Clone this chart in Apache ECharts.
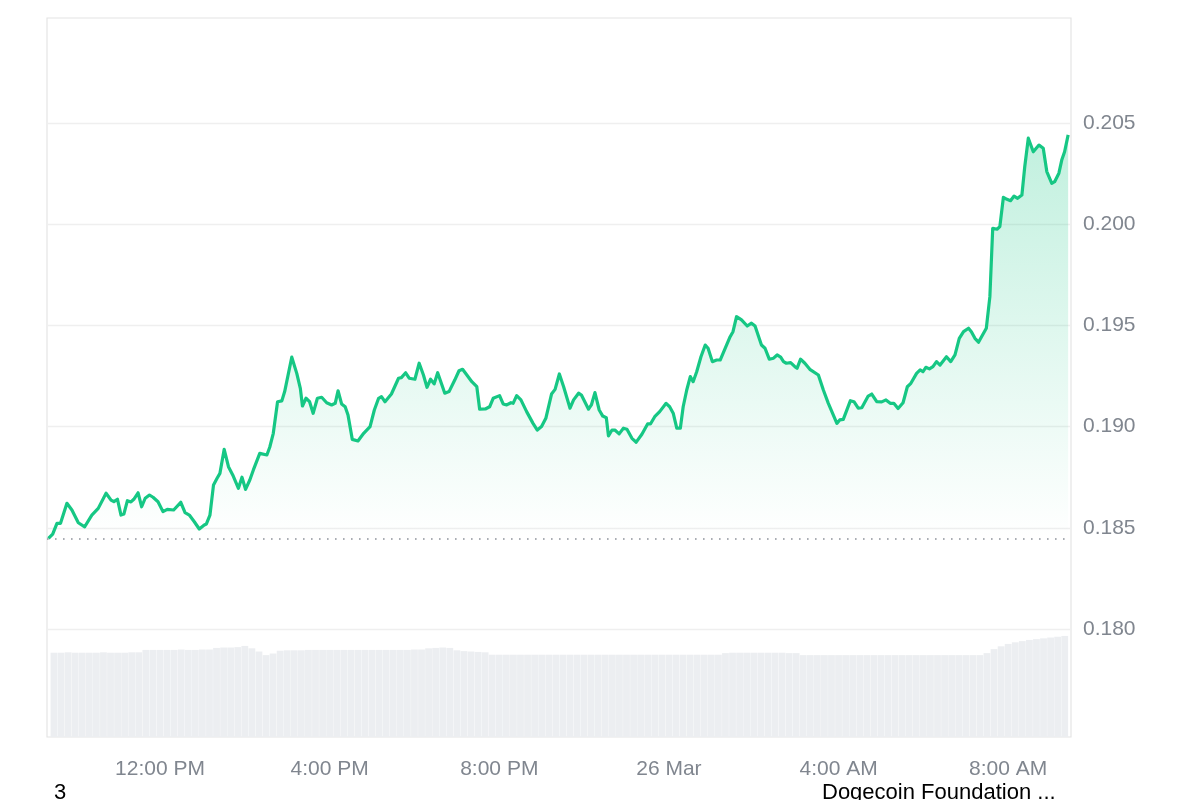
<!DOCTYPE html>
<html>
<head>
<meta charset="utf-8">
<script src="https://cdn.jsdelivr.net/npm/echarts@6/dist/echarts.min.js"></script>
<style>
  html, body { margin: 0; padding: 0; background: #ffffff; }
  #chart { width: 1200px; height: 800px; }
</style>
</head>
<body>
<div id="chart"></div>
<script>
// ---- Data ----
// Window start: 25 Mar, 9:25 AM; values are minutes after that start.
const priceMinutes = [
  2,8,14,19,28,35,44,53,63,72,
  83,90,94,99,104,108,113,118,122,128,
  133,138,144,149,156,163,169,178,188,194,
  200,207,214,221,224,229,234,239,243,249,
  255,261,269,274,279,285,290,299,309,313,
  318,324,330,334,344,351,356,359,364,369,
  374,380,386,393,400,405,409,414,419,423,
  429,437,445,454,460,466,470,475,484,494,
  498,504,509,517,523,529,534,539,544,549,
  555,559,565,573,579,584,590,597,604,608,
  616,622,627,636,641,646,652,655,660,666,
  674,683,689,695,701,709,714,720,726,
  735,740,747,751,761,765,770,776,781,786,
  789,794,798,804,810,815,822,828,836,844,
  848,854,861,870,875,880,885,890,894,899,
  904,908,913,919,925,929,935,941,946,953,
  960,964,969,976,984,990,995,1004,1009,1015,
  1021,1026,1031,1035,1039,1045,1051,1054,1059,1065,
  1072,1084,1091,1098,
  1110,1114,1119,1129,1134,1140,1145,1154,1159,1166,
  1173,1179,1185,1190,1196,1203,1209,1214,1222,1227,
  1231,1235,1240,1245,1250,1255,1264,1270,1276,1282,
  1288,1295,1299,1304,1309,1320,1325,1329,1335,1339,
  1344,1349,1354,1359,1364,1370,1374,1379,1386,1394,
  1400,1405,1412,1416,1422,1426,1430,1435
];
const prices = [
  0.18448,0.18469,0.18522,0.18522,0.18621,0.18588,0.18525,0.18505,0.18563,0.18596,
  0.18671,0.18637,0.18629,0.18641,0.18563,0.18568,0.18634,0.18628,0.18641,0.18673,
  0.18604,0.18646,0.18662,0.18651,0.18629,0.18580,0.18591,0.18588,0.18626,0.18575,
  0.18563,0.18530,0.18494,0.18514,0.18519,0.18563,0.18712,0.18745,0.18769,0.18888,
  0.18802,0.18761,0.18695,0.18750,0.18690,0.18736,0.18786,0.18868,0.18860,0.18898,
  0.18967,0.19123,0.19127,0.19173,0.19343,0.19263,0.19189,0.19102,0.19140,0.19123,
  0.19066,0.19140,0.19145,0.19118,0.19107,0.19115,0.19177,0.19112,0.19098,0.19057,
  0.18937,0.18929,0.18967,0.19000,0.19082,0.19140,0.19148,0.19123,0.19161,0.19239,
  0.19242,0.19266,0.19239,0.19234,0.19313,0.19255,0.19194,0.19234,0.19211,0.19266,
  0.19206,0.19165,0.19173,0.19230,0.19276,0.19283,0.19255,0.19222,0.19197,0.19086,
  0.19087,0.19098,0.19140,0.19153,0.19112,0.19107,0.19118,0.19115,0.19153,0.19132,
  0.19074,0.19016,0.18983,0.19000,0.19041,0.19161,0.19184,0.19260,0.19197,
  0.19091,0.19132,0.19165,0.19156,0.19086,0.19107,0.19168,0.19082,0.19052,0.19044,
  0.18954,0.18983,0.18983,0.18964,0.18992,0.18987,0.18942,0.18923,0.18962,0.19013,
  0.19013,0.19049,0.19074,0.19115,0.19098,0.19066,0.18992,0.18992,0.19098,0.19181,
  0.19247,0.19222,0.19271,0.19345,0.19403,0.19387,0.19321,0.19329,0.19329,0.19387,
  0.19444,0.19469,0.19543,0.19527,0.19497,0.19511,0.19497,0.19403,0.19387,0.19333,
  0.19338,0.19354,0.19343,0.19321,0.19313,0.19316,0.19296,0.19288,0.19333,0.19313,
  0.19283,0.19255,0.19181,0.19115,
  0.19016,0.19033,0.19036,0.19128,0.19123,0.19091,0.19093,0.19151,0.19161,0.19123,
  0.19122,0.19132,0.19115,0.19115,0.19089,0.19118,0.19197,0.19214,0.19263,0.19280,
  0.19271,0.19293,0.19285,0.19296,0.19321,0.19304,0.19345,0.19321,0.19354,0.19436,
  0.19469,0.19486,0.19469,0.19436,0.19417,0.19486,0.19642,0.19980,0.19975,0.19988,
  0.20133,0.20123,0.20116,0.20139,0.20128,0.20144,0.20284,0.20425,0.20358,0.20391,
  0.20375,0.20260,0.20202,0.20210,0.20252,0.20317,0.20358,0.20441
];
// Volume bars, one every 10 minutes starting 5 minutes after the window start (billions, estimated)
const volumeMinuteStart = 5;
const volumeStep = 10;
const volumes = [
  2.11,2.11,2.12,2.11,2.11,2.11,2.11,2.12,2.11,2.11,2.11,2.12,2.12,
  2.18,2.18,2.18,2.18,2.18,2.19,2.18,2.18,2.19,2.19,
  2.23,2.24,2.24,2.25,
  2.28,2.22,2.14,2.05,2.09,
  2.16,2.17,2.17,2.17,2.18,2.18,2.18,2.18,2.18,2.18,2.18,2.18,2.18,2.18,2.18,2.18,2.18,2.18,2.18,2.19,2.19,
  2.22,2.23,2.24,2.23,
  2.17,2.15,2.14,2.13,2.12,
  2.06,2.06,2.06,2.06,2.06,2.06,2.06,2.06,2.06,2.06,2.06,2.06,2.06,2.06,2.06,2.06,2.06,
  2.06,2.06,2.06,2.06,2.06,2.06,2.06,2.06,2.06,2.06,2.06,2.06,2.06,2.06,2.06,2.06,
  2.10,2.11,2.11,2.11,2.11,2.11,2.11,2.11,2.11,2.10,2.10,
  2.05,2.05,2.05,2.05,2.05,2.05,2.05,2.05,2.05,2.05,2.05,2.05,2.05,
  2.05,2.05,2.05,2.05,2.05,2.05,2.05,2.05,2.05,2.05,2.05,2.05,2.05,
  2.10,2.20,2.27,2.33,2.37,2.40,2.43,2.45,2.47,2.49,2.51,2.53
];
const yTickValues = [0.180, 0.185, 0.190, 0.195, 0.200, 0.205];
const MONTHS = ['Jan','Feb','Mar','Apr','May','Jun','Jul','Aug','Sep','Oct','Nov','Dec'];
const footerLeft = '3';
const footerRight = 'Dogecoin Foundation ...';

// ---- Build ----
const START = new Date(2025, 2, 25, 9, 25, 0).getTime();
const END = START + 1439 * 60000;
const MIN = 60000;
const priceData = priceMinutes.map((m, i) => [START + m * MIN, prices[i]]);
const volumeData = volumes.map((v, i) => [START + (volumeMinuteStart + i * volumeStep) * MIN, v]);
const openPrice = prices[0];

const FONT = '"Liberation Sans", Arial, Helvetica, sans-serif';
const LABEL_COLOR = '#80868f';
const GREEN = '#16c784';

function timeLabel(v) {
  const d = new Date(v);
  const h = d.getHours(), mi = d.getMinutes();
  if (mi !== 0) return '';
  if (h === 0) return d.getDate() + ' ' + MONTHS[d.getMonth()];
  const h12 = (h % 12 === 0) ? 12 : h % 12;
  return h12 + ':00 ' + (h < 12 ? 'AM' : 'PM');
}

function splitColor(v) { return v; }

const chart = echarts.init(document.getElementById('chart'), null, { renderer: 'canvas' });
chart.setOption({
  animation: false,
  backgroundColor: '#ffffff',
  textStyle: { fontFamily: FONT },
  title: [
    { text: footerLeft, left: 49, top: 777, textStyle: { color: '#000', fontSize: 22, fontWeight: 'normal', fontFamily: FONT } },
    { text: footerRight, left: 817, top: 777, textStyle: { color: '#000', fontSize: 22, fontWeight: 'normal', fontFamily: FONT } }
  ],
  grid: [
    { left: 47, right: 129, top: 18, bottom: 63, show: true, borderColor: '#e4e4e4', borderWidth: 1.2, backgroundColor: 'transparent' },
    { left: 47, right: 129, top: 18, bottom: 69.8 }
  ],
  xAxis: [
    {
      type: 'time', gridIndex: 0, min: START, max: END, splitNumber: 6,
      axisLine: { show: false }, axisTick: { show: false }, splitLine: { show: false },
      axisLabel: {
        color: LABEL_COLOR, fontSize: 21, fontFamily: FONT, margin: 22,
        showMinLabel: false, showMaxLabel: false, hideOverlap: false,
        formatter: timeLabel
      }
    },
    { type: 'time', gridIndex: 1, min: START, max: END, show: false }
  ],
  yAxis: [
    { type: 'value', gridIndex: 0, min: 0, max: 18, show: false, splitLine: { show: false } },
    {
      type: 'value', gridIndex: 1, position: 'right',
      min: 0.175, max: 0.210188, interval: 0.005,
      axisLine: { show: false }, axisTick: { show: false },
      splitLine: { show: true, lineStyle: { color: ['rgba(0,0,0,0)', '#efefef', '#efefef', '#efefef', '#efefef', '#efefef', '#efefef', 'rgba(0,0,0,0)', 'rgba(0,0,0,0)'], width: 1.3 } },
      axisLabel: {
        color: LABEL_COLOR, fontSize: 21, fontFamily: FONT, margin: 12,
        formatter: function (v) {
          for (const t of yTickValues) { if (Math.abs(v - t) < 1e-6) return t.toFixed(3); }
          return '';
        }
      }
    }
  ],
  series: [
    {
      type: 'bar', xAxisIndex: 0, yAxisIndex: 0, data: volumeData,
      barWidth: '96%', silent: true, z: 1,
      itemStyle: { color: '#eceef1' }
    },
    {
      type: 'line', xAxisIndex: 1, yAxisIndex: 1, data: priceData,
      showSymbol: false, symbol: 'none', silent: true, z: 3,
      lineStyle: { color: GREEN, width: 3.2, join: 'round' },
      areaStyle: {
        origin: openPrice,
        color: new echarts.graphic.LinearGradient(0, 0, 0, 1, [
          { offset: 0, color: 'rgba(22,199,132,0.38)' },
          { offset: 1, color: 'rgba(22,199,132,0.0)' }
        ])
      },
      markLine: {
        silent: true, symbol: 'none', label: { show: false }, precision: 6,
        lineStyle: { color: '#8f949c', type: [1.6, 6.4], width: 1.6 },
        data: [{ yAxis: openPrice }]
      }
    }
  ]
});
</script>
</body>
</html>
